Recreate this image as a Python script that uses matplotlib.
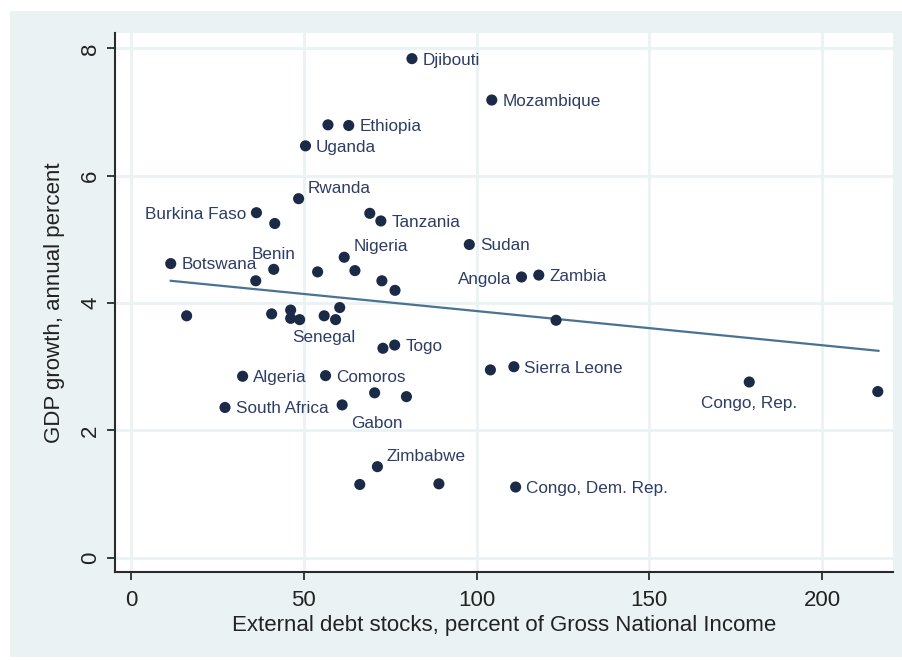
import matplotlib
matplotlib.use("Agg")
import matplotlib.pyplot as plt
from matplotlib.patches import Rectangle

plt.rcParams['font.family'] = ['Liberation Sans', 'DejaVu Sans']

# ---- data ----
debt = [81.3, 104.4, 57.0, 63.0, 50.5, 48.5, 36.3, 41.6, 69.1, 72.3,
        97.9, 61.7, 41.3, 11.5, 54.0, 64.8, 72.6, 76.4, 113.0, 118.0,
        36.1, 123.0, 16.1, 40.7, 46.2, 46.2, 48.8, 55.9, 60.4, 59.2,
        72.9, 76.3, 32.3, 56.3, 70.5, 79.7, 27.2, 61.1, 71.3, 66.2,
        89.1, 111.3, 104.0, 110.8, 178.9, 216.1]
growth = [7.84, 7.19, 6.80, 6.79, 6.47, 5.64, 5.42, 5.25, 5.41, 5.29,
          4.92, 4.72, 4.53, 4.62, 4.49, 4.51, 4.35, 4.20, 4.41, 4.44,
          4.35, 3.73, 3.80, 3.83, 3.89, 3.76, 3.74, 3.80, 3.93, 3.74,
          3.29, 3.34, 2.85, 2.86, 2.59, 2.53, 2.36, 2.40, 1.43, 1.15,
          1.16, 1.11, 2.95, 3.00, 2.76, 2.61]
names = ["Djibouti", "Mozambique", "", "Ethiopia", "Uganda", "Rwanda",
         "Burkina Faso", "", "", "Tanzania", "Sudan", "Nigeria", "Benin",
         "Botswana", "", "", "", "", "Angola", "Zambia", "", "", "", "", "",
         "", "", "Senegal", "", "", "", "Togo", "Algeria", "Comoros", "", "",
         "South Africa", "Gabon", "Zimbabwe", "", "", "Congo, Dem. Rep.", "",
         "Sierra Leone", "Congo, Rep.", ""]
# label clock positions (Stata style)
clockpos = [3, 3, 3, 3, 3, 1, 9, 3, 3, 3, 3, 1, 12, 3, 3, 3, 3, 3, 9, 3,
            3, 3, 3, 3, 3, 3, 3, 6, 3, 3, 3, 3, 3, 3, 3, 3, 3, 5, 1, 3,
            3, 3, 3, 3, 6, 3]
fit_x = [11.5, 216.3]
fit_y = [4.35, 3.25]
xticks = [0, 50, 100, 150, 200]
yticks = [0, 2, 4, 6, 8]

# ---- styles ----
BG = "#eaf2f3"
NAVY = "#1b2a47"
LABEL_C = "#2e3d63"
LINE_C = "#4a7393"
AXIS_C = "#2b2b2b"

W, H = 902, 660
fig = plt.figure(figsize=(W / 100, H / 100), dpi=100, facecolor="white")
fig.patches.append(Rectangle((10 / W, 3 / H), 1 - 10 / W, (657 - 11) / H,
                             transform=fig.transFigure, facecolor=BG,
                             edgecolor="none", zorder=-10))

ax = fig.add_axes([115 / W, (H - 572) / H, (893 - 115) / W, (572 - 33) / H])
ax.set_facecolor("white")

ax.set_xlim(-4.63, 220.5)
ax.set_ylim(-0.225, 8.243)
ax.set_xticks(xticks)
ax.set_yticks(yticks)
ax.grid(True, color=BG, linewidth=2.0, zorder=0)
ax.set_axisbelow(True)

for s in ["top", "right"]:
    ax.spines[s].set_visible(False)
for s in ["left", "bottom"]:
    ax.spines[s].set_color(AXIS_C)
    ax.spines[s].set_linewidth(1.5)

ax.tick_params(axis="both", direction="out", length=6, width=1.3,
               color=AXIS_C, labelsize=16, labelcolor="#222222")
ax.tick_params(axis="x", pad=7)
ax.tick_params(axis="y", pad=4)
plt.setp(ax.get_yticklabels(), rotation=90, va="center")

ax.plot(fit_x, fit_y, color=LINE_C, linewidth=1.6, zorder=2)
ax.scatter(debt, growth, s=64, color=NAVY, edgecolors="none", zorder=3)

offsets = {
    3: ((7.6, -1.0), "left", "center"),
    1: ((6.5, 7.5), "left", "center"),
    12: ((0, 11.0), "center", "center"),
    6: ((0, -15.5), "center", "center"),
    5: ((6.8, -13.7), "left", "center"),
    9: ((-7.0, -1.5), "right", "center"),
}
for x, y, n, p in zip(debt, growth, names, clockpos):
    if not n:
        continue
    (dx, dy), ha, va = offsets[p]
    ax.annotate(n, (x, y), xytext=(dx, dy), textcoords="offset points",
                ha=ha, va=va, fontsize=12.3, color=LABEL_C, zorder=4)

ax.set_xlabel("External debt stocks, percent of Gross National Income",
              fontsize=16, color="#222222", labelpad=3)
ax.set_ylabel("GDP growth, annual percent", fontsize=16, color="#222222",
              labelpad=11)

fig.savefig("out.png", dpi=100, facecolor="white")
